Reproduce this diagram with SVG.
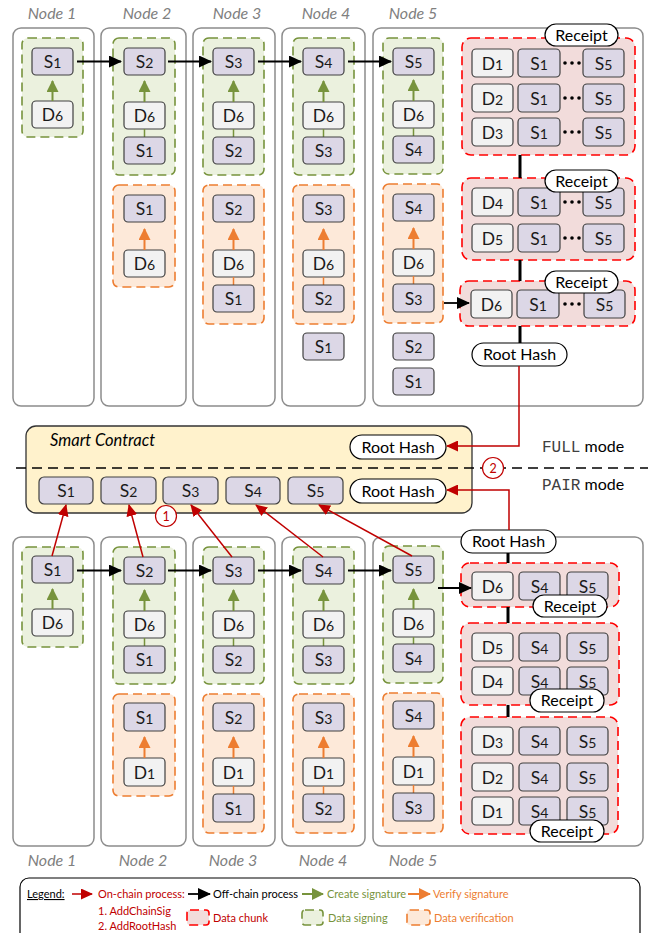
<svg xmlns="http://www.w3.org/2000/svg" width="648" height="933" viewBox="0 0 648 933">
<style>
.nb{fill:#fff;stroke:#8c8c8c;stroke-width:1.5}
.gg{fill:#EBF1DE;stroke:#77933C;stroke-width:1.6;stroke-dasharray:9 5}
.og{fill:#FDE9D9;stroke:#ED7D31;stroke-width:1.6;stroke-dasharray:9 5}
.rc{fill:#F2DCDB;stroke:#FF0000;stroke-width:1.6;stroke-dasharray:9 5}
.s{fill:#DCD7E6;stroke:#404040;stroke-width:1.2}
.d{fill:#F2F2F2;stroke:#404040;stroke-width:1.2}
.pill{fill:#fff;stroke:#000;stroke-width:1.2}
.t{font-family:Lato,"Open Sans",sans-serif;font-size:17.5px;text-anchor:middle;fill:#1a1a1a}
.sub{font-size:14px}
.pt{font-family:Lato,"Open Sans",sans-serif;font-size:16px;text-anchor:middle;fill:#000}
.nl{font-family:Lato,"Open Sans",sans-serif;font-style:italic;font-size:16px;text-anchor:middle;fill:#808080}
.ga{stroke:#77933C;stroke-width:2;fill:none}
.oa{stroke:#ED7D31;stroke-width:2;fill:none}
.ba{stroke:#000;stroke-width:1.8;fill:none}
.ra{stroke:#C00000;stroke-width:1.5;fill:none}
.gl{stroke:#77933C;stroke-width:1.5}
.ol{stroke:#ED7D31;stroke-width:1.5}
.kl{stroke:#000;stroke-width:3}
.lg{font-family:Lato,"Open Sans",sans-serif;font-size:11px}
</style>
<defs>
<marker id="mb" markerUnits="userSpaceOnUse" markerWidth="13" markerHeight="12" refX="12" refY="6" orient="auto"><path d="M0,0 L13,6 L0,12 z" fill="#000"/></marker>
<marker id="mg" markerUnits="userSpaceOnUse" markerWidth="12" markerHeight="12" refX="11" refY="6" orient="auto"><path d="M0,0 L12,6 L0,12 z" fill="#77933C"/></marker>
<marker id="mo" markerUnits="userSpaceOnUse" markerWidth="12" markerHeight="12" refX="11" refY="6" orient="auto"><path d="M0,0 L12,6 L0,12 z" fill="#ED7D31"/></marker>
<marker id="mr" markerUnits="userSpaceOnUse" markerWidth="12" markerHeight="11" refX="11" refY="5.5" orient="auto"><path d="M0,0 L12,5.5 L0,11 z" fill="#C00000"/></marker>
</defs>
<rect width="648" height="933" fill="#fff"/>

<!-- ================= TOP (FULL mode) ================= -->
<g id="labels-top">
<text class="nl" x="52" y="19">Node 1</text>
<text class="nl" x="147" y="19">Node 2</text>
<text class="nl" x="237" y="19">Node 3</text>
<text class="nl" x="326" y="19">Node 4</text>
<text class="nl" x="413" y="19">Node 5</text>
</g>

<g id="top-node1">
<rect class="nb" x="13" y="28" width="81" height="378" rx="8"/>
<rect class="gg" x="22" y="38" width="61" height="99" rx="6"/>
<rect class="s" x="32" y="48" width="41" height="27" rx="4"/><text class="t" x="52.5" y="68">S<tspan class="sub">1</tspan></text>
<rect class="d" x="32" y="101" width="41" height="27" rx="4"/><text class="t" x="52.5" y="121">D<tspan class="sub">6</tspan></text>
<line class="ga" x1="52.5" y1="101" x2="52.5" y2="81" marker-end="url(#mg)"/>
</g>

<g id="top-node2">
<rect class="nb" x="101" y="28" width="85" height="378" rx="8"/>
<rect class="gg" x="113" y="38" width="62" height="137" rx="6"/>
<rect class="s" x="124" y="48" width="41" height="27" rx="4"/><text class="t" x="144.5" y="68">S<tspan class="sub">2</tspan></text>
<rect class="d" x="124" y="102" width="41" height="27" rx="4"/><text class="t" x="144.5" y="122">D<tspan class="sub">6</tspan></text>
<line class="gl" x1="144.5" y1="129" x2="144.5" y2="137"/>
<rect class="s" x="124" y="137" width="41" height="27" rx="4"/><text class="t" x="144.5" y="157">S<tspan class="sub">1</tspan></text>
<line class="ga" x1="144.5" y1="102" x2="144.5" y2="81" marker-end="url(#mg)"/>
<rect class="og" x="113" y="185" width="62" height="102" rx="6"/>
<rect class="s" x="124" y="195" width="41" height="27" rx="4"/><text class="t" x="144.5" y="215">S<tspan class="sub">1</tspan></text>
<rect class="d" x="124" y="250" width="41" height="27" rx="4"/><text class="t" x="144.5" y="270">D<tspan class="sub">6</tspan></text>
<line class="oa" x1="144.5" y1="250" x2="144.5" y2="229" marker-end="url(#mo)"/>
</g>

<g id="top-node3">
<rect class="nb" x="193" y="28" width="82" height="378" rx="8"/>
<rect class="gg" x="203" y="38" width="61" height="137" rx="6"/>
<rect class="s" x="213" y="48" width="41" height="27" rx="4"/><text class="t" x="233.5" y="68">S<tspan class="sub">3</tspan></text>
<rect class="d" x="213" y="102" width="41" height="27" rx="4"/><text class="t" x="233.5" y="122">D<tspan class="sub">6</tspan></text>
<line class="gl" x1="233.5" y1="129" x2="233.5" y2="137"/>
<rect class="s" x="213" y="137" width="41" height="27" rx="4"/><text class="t" x="233.5" y="157">S<tspan class="sub">2</tspan></text>
<line class="ga" x1="233.5" y1="102" x2="233.5" y2="81" marker-end="url(#mg)"/>
<rect class="og" x="203" y="185" width="61" height="139" rx="6"/>
<rect class="s" x="213" y="195" width="41" height="27" rx="4"/><text class="t" x="233.5" y="215">S<tspan class="sub">2</tspan></text>
<rect class="d" x="213" y="250" width="41" height="27" rx="4"/><text class="t" x="233.5" y="270">D<tspan class="sub">6</tspan></text>
<line class="ol" x1="233.5" y1="277" x2="233.5" y2="285"/>
<rect class="s" x="213" y="285" width="41" height="27" rx="4"/><text class="t" x="233.5" y="305">S<tspan class="sub">1</tspan></text>
<line class="oa" x1="233.5" y1="250" x2="233.5" y2="229" marker-end="url(#mo)"/>
</g>

<g id="top-node4">
<rect class="nb" x="282" y="28" width="83" height="378" rx="8"/>
<rect class="gg" x="293" y="38" width="61" height="137" rx="6"/>
<rect class="s" x="303" y="48" width="41" height="27" rx="4"/><text class="t" x="323.5" y="68">S<tspan class="sub">4</tspan></text>
<rect class="d" x="303" y="102" width="41" height="27" rx="4"/><text class="t" x="323.5" y="122">D<tspan class="sub">6</tspan></text>
<line class="gl" x1="323.5" y1="129" x2="323.5" y2="137"/>
<rect class="s" x="303" y="137" width="41" height="27" rx="4"/><text class="t" x="323.5" y="157">S<tspan class="sub">3</tspan></text>
<line class="ga" x1="323.5" y1="102" x2="323.5" y2="81" marker-end="url(#mg)"/>
<rect class="og" x="293" y="185" width="61" height="139" rx="6"/>
<rect class="s" x="303" y="195" width="41" height="27" rx="4"/><text class="t" x="323.5" y="215">S<tspan class="sub">3</tspan></text>
<rect class="d" x="303" y="250" width="41" height="27" rx="4"/><text class="t" x="323.5" y="270">D<tspan class="sub">6</tspan></text>
<line class="ol" x1="323.5" y1="277" x2="323.5" y2="285"/>
<rect class="s" x="303" y="285" width="41" height="27" rx="4"/><text class="t" x="323.5" y="305">S<tspan class="sub">2</tspan></text>
<line class="oa" x1="323.5" y1="250" x2="323.5" y2="229" marker-end="url(#mo)"/>
<rect class="s" x="303" y="333" width="41" height="27" rx="4"/><text class="t" x="323.5" y="353">S<tspan class="sub">1</tspan></text>
</g>

<g id="top-node5">
<rect class="nb" x="373" y="28" width="270" height="378" rx="8"/>
<rect class="gg" x="383" y="38" width="60" height="136" rx="6"/>
<rect class="s" x="393" y="48" width="41" height="27" rx="4"/><text class="t" x="413.5" y="68">S<tspan class="sub">5</tspan></text>
<rect class="d" x="393" y="101" width="41" height="27" rx="4"/><text class="t" x="413.5" y="121">D<tspan class="sub">6</tspan></text>
<line class="gl" x1="413.5" y1="128" x2="413.5" y2="136"/>
<rect class="s" x="393" y="136" width="41" height="27" rx="4"/><text class="t" x="413.5" y="156">S<tspan class="sub">4</tspan></text>
<line class="ga" x1="413.5" y1="101" x2="413.5" y2="80" marker-end="url(#mg)"/>
<rect class="og" x="383" y="184" width="60" height="139" rx="6"/>
<rect class="s" x="393" y="194" width="41" height="27" rx="4"/><text class="t" x="413.5" y="214">S<tspan class="sub">4</tspan></text>
<rect class="d" x="393" y="249" width="41" height="27" rx="4"/><text class="t" x="413.5" y="269">D<tspan class="sub">6</tspan></text>
<line class="ol" x1="413.5" y1="276" x2="413.5" y2="284"/>
<rect class="s" x="393" y="284" width="41" height="28" rx="4"/><text class="t" x="413.5" y="304.5">S<tspan class="sub">3</tspan></text>
<line class="oa" x1="413.5" y1="249" x2="413.5" y2="228" marker-end="url(#mo)"/>
<rect class="s" x="393" y="333" width="41" height="27" rx="4"/><text class="t" x="413.5" y="353">S<tspan class="sub">2</tspan></text>
<rect class="s" x="393" y="368" width="41" height="27" rx="4"/><text class="t" x="413.5" y="388">S<tspan class="sub">1</tspan></text>
</g>

<g id="top-chunk1">
<rect class="rc" x="462" y="38" width="173" height="117" rx="9"/>
<rect class="d" x="472" y="49" width="41" height="28" rx="4"/><text class="t" x="492.5" y="69.5">D<tspan class="sub">1</tspan></text>
<rect class="s" x="518" y="49" width="42" height="28" rx="4"/><text class="t" x="539" y="69.5">S<tspan class="sub">1</tspan></text>
<circle cx="565" cy="63" r="1.8"/><circle cx="572" cy="63" r="1.8"/><circle cx="579" cy="63" r="1.8"/>
<rect class="s" x="583" y="49" width="41" height="28" rx="4"/><text class="t" x="603.5" y="69.5">S<tspan class="sub">5</tspan></text>
<rect class="d" x="472" y="84" width="41" height="28" rx="4"/><text class="t" x="492.5" y="104.5">D<tspan class="sub">2</tspan></text>
<rect class="s" x="518" y="84" width="42" height="28" rx="4"/><text class="t" x="539" y="104.5">S<tspan class="sub">1</tspan></text>
<circle cx="565" cy="98" r="1.8"/><circle cx="572" cy="98" r="1.8"/><circle cx="579" cy="98" r="1.8"/>
<rect class="s" x="583" y="84" width="41" height="28" rx="4"/><text class="t" x="603.5" y="104.5">S<tspan class="sub">5</tspan></text>
<rect class="d" x="472" y="118" width="41" height="28" rx="4"/><text class="t" x="492.5" y="138.5">D<tspan class="sub">3</tspan></text>
<rect class="s" x="518" y="118" width="42" height="28" rx="4"/><text class="t" x="539" y="138.5">S<tspan class="sub">1</tspan></text>
<circle cx="565" cy="132" r="1.8"/><circle cx="572" cy="132" r="1.8"/><circle cx="579" cy="132" r="1.8"/>
<rect class="s" x="583" y="118" width="41" height="28" rx="4"/><text class="t" x="603.5" y="138.5">S<tspan class="sub">5</tspan></text>
<rect class="pill" x="545" y="24" width="73" height="22" rx="11"/><text class="pt" x="581.5" y="40.5">Receipt</text>
</g>

<g id="top-chunk2">
<rect class="rc" x="462" y="178" width="173" height="82" rx="9"/>
<rect class="d" x="472" y="188" width="41" height="28" rx="4"/><text class="t" x="492.5" y="208.5">D<tspan class="sub">4</tspan></text>
<rect class="s" x="518" y="188" width="42" height="28" rx="4"/><text class="t" x="539" y="208.5">S<tspan class="sub">1</tspan></text>
<circle cx="565" cy="202" r="1.8"/><circle cx="572" cy="202" r="1.8"/><circle cx="579" cy="202" r="1.8"/>
<rect class="s" x="583" y="188" width="41" height="28" rx="4"/><text class="t" x="603.5" y="208.5">S<tspan class="sub">5</tspan></text>
<rect class="d" x="472" y="224" width="41" height="28" rx="4"/><text class="t" x="492.5" y="244.5">D<tspan class="sub">5</tspan></text>
<rect class="s" x="518" y="224" width="42" height="28" rx="4"/><text class="t" x="539" y="244.5">S<tspan class="sub">1</tspan></text>
<circle cx="565" cy="238" r="1.8"/><circle cx="572" cy="238" r="1.8"/><circle cx="579" cy="238" r="1.8"/>
<rect class="s" x="583" y="224" width="41" height="28" rx="4"/><text class="t" x="603.5" y="244.5">S<tspan class="sub">5</tspan></text>
<rect class="pill" x="545" y="170" width="73" height="22" rx="11"/><text class="pt" x="581.5" y="186.5">Receipt</text>
</g>

<g id="top-chunk3">
<rect class="rc" x="460" y="281" width="175" height="45" rx="9"/>
<rect class="d" x="471" y="290" width="41" height="28" rx="4"/><text class="t" x="491.5" y="310.5">D<tspan class="sub">6</tspan></text>
<rect class="s" x="517" y="290" width="42" height="28" rx="4"/><text class="t" x="538" y="310.5">S<tspan class="sub">1</tspan></text>
<circle cx="565" cy="304" r="1.8"/><circle cx="572" cy="304" r="1.8"/><circle cx="579" cy="304" r="1.8"/>
<rect class="s" x="584" y="290" width="41" height="28" rx="4"/><text class="t" x="604.5" y="310.5">S<tspan class="sub">5</tspan></text>
<rect class="pill" x="545" y="271" width="73" height="22" rx="11"/><text class="pt" x="581.5" y="287.5">Receipt</text>
</g>

<g id="top-roothash">
<rect class="pill" x="472" y="343" width="95" height="23" rx="11.5"/><text class="pt" x="519.5" y="360">Root Hash</text>
</g>

<!-- ================= SMART CONTRACT ================= -->
<g id="contract">
<rect x="26" y="426" width="446" height="87" rx="10" fill="#FFF2CC" stroke="#333" stroke-width="1.3"/>
<text x="50" y="446" font-family="Lato,'Open Sans',sans-serif" font-style="italic" font-size="16.5" fill="#000">Smart Contract</text>
<rect class="pill" x="350" y="435" width="96" height="24" rx="12"/><text class="pt" x="398" y="452.5">Root Hash</text>
<rect class="pill" x="350" y="479" width="96" height="24" rx="12"/><text class="pt" x="398" y="496.5">Root Hash</text>
<rect class="s" x="39" y="477" width="54" height="27" rx="5"/><text class="t" x="66" y="497">S<tspan class="sub">1</tspan></text>
<rect class="s" x="101" y="477" width="55" height="27" rx="5"/><text class="t" x="128.5" y="497">S<tspan class="sub">2</tspan></text>
<rect class="s" x="163" y="477" width="55" height="27" rx="5"/><text class="t" x="190.5" y="497">S<tspan class="sub">3</tspan></text>
<rect class="s" x="226" y="477" width="54" height="27" rx="5"/><text class="t" x="253" y="497">S<tspan class="sub">4</tspan></text>
<rect class="s" x="288" y="477" width="55" height="27" rx="5"/><text class="t" x="315.5" y="497">S<tspan class="sub">5</tspan></text>
</g>

<g id="modes">
<line x1="16" y1="468" x2="648" y2="468" stroke="#000" stroke-width="1.5" stroke-dasharray="10 6"/>
<text x="542" y="452" font-family="Lato,'Open Sans',sans-serif" font-size="16" fill="#000"><tspan font-family="'Liberation Mono',monospace" fill="#404040">FULL</tspan> mode</text>
<text x="542" y="490" font-family="Lato,'Open Sans',sans-serif" font-size="16" fill="#000"><tspan font-family="'Liberation Mono',monospace" fill="#404040">PAIR</tspan> mode</text>
</g>

<!-- ================= BOTTOM (PAIR mode) ================= -->
<g id="bot-node1">
<rect class="nb" x="13" y="537" width="81" height="309" rx="8"/>
<rect class="gg" x="22" y="547" width="61" height="100" rx="6"/>
<rect class="s" x="32" y="556" width="41" height="27" rx="4"/><text class="t" x="52.5" y="576">S<tspan class="sub">1</tspan></text>
<rect class="d" x="32" y="609" width="41" height="27" rx="4"/><text class="t" x="52.5" y="629">D<tspan class="sub">6</tspan></text>
<line class="ga" x1="52.5" y1="609" x2="52.5" y2="589" marker-end="url(#mg)"/>
</g>

<g id="bot-node2">
<rect class="nb" x="101" y="537" width="85" height="309" rx="8"/>
<rect class="gg" x="113" y="547" width="62" height="137" rx="6"/>
<rect class="s" x="124" y="557" width="41" height="27" rx="4"/><text class="t" x="144.5" y="577">S<tspan class="sub">2</tspan></text>
<rect class="d" x="124" y="611" width="41" height="27" rx="4"/><text class="t" x="144.5" y="631">D<tspan class="sub">6</tspan></text>
<line class="gl" x1="144.5" y1="638" x2="144.5" y2="646"/>
<rect class="s" x="124" y="646" width="41" height="27" rx="4"/><text class="t" x="144.5" y="666">S<tspan class="sub">1</tspan></text>
<line class="ga" x1="144.5" y1="611" x2="144.5" y2="590" marker-end="url(#mg)"/>
<rect class="og" x="113" y="694" width="62" height="102" rx="6"/>
<rect class="s" x="124" y="703" width="41" height="28" rx="4"/><text class="t" x="144.5" y="723.5">S<tspan class="sub">1</tspan></text>
<rect class="d" x="124" y="758" width="41" height="28" rx="4"/><text class="t" x="144.5" y="778.5">D<tspan class="sub">1</tspan></text>
<line class="oa" x1="144.5" y1="758" x2="144.5" y2="737" marker-end="url(#mo)"/>
</g>

<g id="bot-node3">
<rect class="nb" x="193" y="537" width="82" height="309" rx="8"/>
<rect class="gg" x="203" y="547" width="61" height="137" rx="6"/>
<rect class="s" x="213" y="557" width="41" height="27" rx="4"/><text class="t" x="233.5" y="577">S<tspan class="sub">3</tspan></text>
<rect class="d" x="213" y="611" width="41" height="27" rx="4"/><text class="t" x="233.5" y="631">D<tspan class="sub">6</tspan></text>
<line class="gl" x1="233.5" y1="638" x2="233.5" y2="646"/>
<rect class="s" x="213" y="646" width="41" height="27" rx="4"/><text class="t" x="233.5" y="666">S<tspan class="sub">2</tspan></text>
<line class="ga" x1="233.5" y1="611" x2="233.5" y2="590" marker-end="url(#mg)"/>
<rect class="og" x="203" y="694" width="61" height="139" rx="6"/>
<rect class="s" x="213" y="703" width="41" height="28" rx="4"/><text class="t" x="233.5" y="723.5">S<tspan class="sub">2</tspan></text>
<rect class="d" x="213" y="758" width="41" height="28" rx="4"/><text class="t" x="233.5" y="778.5">D<tspan class="sub">1</tspan></text>
<line class="ol" x1="233.5" y1="786" x2="233.5" y2="794"/>
<rect class="s" x="213" y="794" width="41" height="28" rx="4"/><text class="t" x="233.5" y="814.5">S<tspan class="sub">1</tspan></text>
<line class="oa" x1="233.5" y1="758" x2="233.5" y2="737" marker-end="url(#mo)"/>
</g>

<g id="bot-node4">
<rect class="nb" x="282" y="537" width="83" height="309" rx="8"/>
<rect class="gg" x="293" y="547" width="61" height="137" rx="6"/>
<rect class="s" x="303" y="557" width="41" height="27" rx="4"/><text class="t" x="323.5" y="577">S<tspan class="sub">4</tspan></text>
<rect class="d" x="303" y="611" width="41" height="27" rx="4"/><text class="t" x="323.5" y="631">D<tspan class="sub">6</tspan></text>
<line class="gl" x1="323.5" y1="638" x2="323.5" y2="646"/>
<rect class="s" x="303" y="646" width="41" height="27" rx="4"/><text class="t" x="323.5" y="666">S<tspan class="sub">3</tspan></text>
<line class="ga" x1="323.5" y1="611" x2="323.5" y2="590" marker-end="url(#mg)"/>
<rect class="og" x="293" y="694" width="61" height="139" rx="6"/>
<rect class="s" x="303" y="703" width="41" height="28" rx="4"/><text class="t" x="323.5" y="723.5">S<tspan class="sub">3</tspan></text>
<rect class="d" x="303" y="758" width="41" height="28" rx="4"/><text class="t" x="323.5" y="778.5">D<tspan class="sub">1</tspan></text>
<line class="ol" x1="323.5" y1="786" x2="323.5" y2="794"/>
<rect class="s" x="303" y="794" width="41" height="28" rx="4"/><text class="t" x="323.5" y="814.5">S<tspan class="sub">2</tspan></text>
<line class="oa" x1="323.5" y1="758" x2="323.5" y2="737" marker-end="url(#mo)"/>
</g>

<g id="bot-node5">
<rect class="nb" x="373" y="537" width="270" height="309" rx="8"/>
<rect class="gg" x="383" y="546" width="60" height="137" rx="6"/>
<rect class="s" x="393" y="556" width="41" height="27" rx="4"/><text class="t" x="413.5" y="576">S<tspan class="sub">5</tspan></text>
<rect class="d" x="393" y="609" width="41" height="28" rx="4"/><text class="t" x="413.5" y="629.5">D<tspan class="sub">6</tspan></text>
<line class="gl" x1="413.5" y1="637" x2="413.5" y2="644"/>
<rect class="s" x="393" y="644" width="41" height="28" rx="4"/><text class="t" x="413.5" y="664.5">S<tspan class="sub">4</tspan></text>
<line class="ga" x1="413.5" y1="609" x2="413.5" y2="589" marker-end="url(#mg)"/>
<rect class="og" x="383" y="693" width="60" height="140" rx="6"/>
<rect class="s" x="393" y="701" width="41" height="28" rx="4"/><text class="t" x="413.5" y="721.5">S<tspan class="sub">4</tspan></text>
<rect class="d" x="393" y="757" width="41" height="28" rx="4"/><text class="t" x="413.5" y="777.5">D<tspan class="sub">1</tspan></text>
<line class="ol" x1="413.5" y1="785" x2="413.5" y2="793"/>
<rect class="s" x="393" y="793" width="41" height="28" rx="4"/><text class="t" x="413.5" y="813.5">S<tspan class="sub">3</tspan></text>
<line class="oa" x1="413.5" y1="757" x2="413.5" y2="736" marker-end="url(#mo)"/>
</g>

<g id="bot-chunkA">
<rect class="rc" x="461" y="563" width="158" height="44" rx="9"/>
<rect class="d" x="472" y="572" width="41" height="28" rx="4"/><text class="t" x="492.5" y="592.5">D<tspan class="sub">6</tspan></text>
<rect class="s" x="519" y="572" width="41" height="28" rx="4"/><text class="t" x="539.5" y="592.5">S<tspan class="sub">4</tspan></text>
<rect class="s" x="567" y="572" width="41" height="28" rx="4"/><text class="t" x="587.5" y="592.5">S<tspan class="sub">5</tspan></text>
<rect class="pill" x="533" y="595" width="74" height="22" rx="11"/><text class="pt" x="570" y="611.5">Receipt</text>
</g>

<g id="bot-chunkB">
<rect class="rc" x="461" y="623" width="158" height="82" rx="9"/>
<rect class="d" x="472" y="633" width="41" height="28" rx="4"/><text class="t" x="492.5" y="653.5">D<tspan class="sub">5</tspan></text>
<rect class="s" x="519" y="633" width="41" height="28" rx="4"/><text class="t" x="539.5" y="653.5">S<tspan class="sub">4</tspan></text>
<rect class="s" x="567" y="633" width="41" height="28" rx="4"/><text class="t" x="587.5" y="653.5">S<tspan class="sub">5</tspan></text>
<rect class="d" x="472" y="667" width="41" height="28" rx="4"/><text class="t" x="492.5" y="687.5">D<tspan class="sub">4</tspan></text>
<rect class="s" x="519" y="667" width="41" height="28" rx="4"/><text class="t" x="539.5" y="687.5">S<tspan class="sub">4</tspan></text>
<rect class="s" x="567" y="667" width="41" height="28" rx="4"/><text class="t" x="587.5" y="687.5">S<tspan class="sub">5</tspan></text>
<rect class="pill" x="530" y="689" width="74" height="23" rx="11"/><text class="pt" x="567" y="706">Receipt</text>
</g>

<g id="bot-chunkC">
<rect class="rc" x="461" y="717" width="157" height="117" rx="9"/>
<rect class="d" x="472" y="727" width="41" height="28" rx="4"/><text class="t" x="492.5" y="747.5">D<tspan class="sub">3</tspan></text>
<rect class="s" x="519" y="727" width="41" height="28" rx="4"/><text class="t" x="539.5" y="747.5">S<tspan class="sub">4</tspan></text>
<rect class="s" x="567" y="727" width="41" height="28" rx="4"/><text class="t" x="587.5" y="747.5">S<tspan class="sub">5</tspan></text>
<rect class="d" x="472" y="763" width="41" height="28" rx="4"/><text class="t" x="492.5" y="783.5">D<tspan class="sub">2</tspan></text>
<rect class="s" x="519" y="763" width="41" height="28" rx="4"/><text class="t" x="539.5" y="783.5">S<tspan class="sub">4</tspan></text>
<rect class="s" x="567" y="763" width="41" height="28" rx="4"/><text class="t" x="587.5" y="783.5">S<tspan class="sub">5</tspan></text>
<rect class="d" x="472" y="797" width="41" height="28" rx="4"/><text class="t" x="492.5" y="817.5">D<tspan class="sub">1</tspan></text>
<rect class="s" x="519" y="797" width="41" height="28" rx="4"/><text class="t" x="539.5" y="817.5">S<tspan class="sub">4</tspan></text>
<rect class="s" x="567" y="797" width="41" height="28" rx="4"/><text class="t" x="587.5" y="817.5">S<tspan class="sub">5</tspan></text>
<rect class="pill" x="530" y="820" width="74" height="22" rx="11"/><text class="pt" x="567" y="836.5">Receipt</text>
</g>

<g id="bot-roothash">
<rect class="pill" x="461" y="530" width="95" height="23" rx="11.5"/><text class="pt" x="508.5" y="547">Root Hash</text>
</g>

<g id="labels-bottom">
<text class="nl" x="52" y="866">Node 1</text>
<text class="nl" x="143" y="866">Node 2</text>
<text class="nl" x="233" y="866">Node 3</text>
<text class="nl" x="323" y="866">Node 4</text>
<text class="nl" x="413" y="866">Node 5</text>
</g>

<!-- ================= CONNECTORS ================= -->
<g id="connectors">
<line class="ba" x1="77" y1="61.5" x2="121" y2="61.5" marker-end="url(#mb)"/>
<line class="ba" x1="168" y1="61.5" x2="211" y2="61.5" marker-end="url(#mb)"/>
<line class="ba" x1="258" y1="61.5" x2="301" y2="61.5" marker-end="url(#mb)"/>
<line class="ba" x1="348" y1="61.5" x2="391" y2="61.5" marker-end="url(#mb)"/>
<line class="ba" x1="444" y1="303" x2="469" y2="303" marker-end="url(#mb)"/>
<line class="kl" x1="520" y1="155" x2="520" y2="178"/>
<line class="kl" x1="520" y1="260" x2="520" y2="281"/>
<line class="kl" x1="520" y1="326" x2="520" y2="343"/>
<polyline class="ra" points="519,366 519,446 447,446" marker-end="url(#mr)"/>
<polyline class="ra" points="509,530 509,490 447,490" marker-end="url(#mr)"/>
<line class="ba" x1="77" y1="570.5" x2="121" y2="570.5" marker-end="url(#mb)"/>
<line class="ba" x1="168" y1="570.5" x2="211" y2="570.5" marker-end="url(#mb)"/>
<line class="ba" x1="258" y1="570.5" x2="301" y2="570.5" marker-end="url(#mb)"/>
<line class="ba" x1="348" y1="570.5" x2="391" y2="570.5" marker-end="url(#mb)"/>
<line class="ba" x1="438" y1="588" x2="471" y2="588" marker-end="url(#mb)"/>
<line class="kl" x1="508" y1="553" x2="508" y2="563"/>
<line class="kl" x1="508" y1="607" x2="508" y2="623"/>
<line class="kl" x1="508" y1="705" x2="508" y2="717"/>
<line class="ra" x1="52" y1="556" x2="66" y2="505" marker-end="url(#mr)"/>
<line class="ra" x1="143" y1="557" x2="129" y2="505" marker-end="url(#mr)"/>
<line class="ra" x1="232" y1="557" x2="191" y2="505" marker-end="url(#mr)"/>
<line class="ra" x1="323" y1="557" x2="256" y2="505" marker-end="url(#mr)"/>
<line class="ra" x1="412" y1="556" x2="319" y2="505" marker-end="url(#mr)"/>
<circle cx="166" cy="516" r="10.5" fill="#fff" stroke="#C00000" stroke-width="1.2"/>
<text x="166" y="520.5" font-family="Lato,'Open Sans',sans-serif" font-size="12.5" text-anchor="middle" fill="#C00000">1</text>
<circle cx="493" cy="468" r="10.5" fill="#fff" stroke="#C00000" stroke-width="1.2"/>
<text x="493" y="472.5" font-family="Lato,'Open Sans',sans-serif" font-size="12.5" text-anchor="middle" fill="#C00000">2</text>
</g>

<!-- ================= LEGEND ================= -->
<g id="legend">
<rect x="20" y="878" width="620" height="64" rx="9" fill="#fff" stroke="#000" stroke-width="1.2"/>
<text class="lg" x="27" y="898" fill="#000" text-decoration="underline">Legend:</text>
<line class="ra" x1="72" y1="894" x2="92" y2="894" stroke-width="2" marker-end="url(#mr)"/>
<text class="lg" x="98" y="898" fill="#C00000">On-chain process:</text>
<text class="lg" x="98" y="915" fill="#C00000">1. AddChainSig</text>
<text class="lg" x="98" y="930" fill="#C00000">2. AddRootHash</text>
<line class="ba" x1="188" y1="894" x2="210" y2="894" marker-end="url(#mb)"/>
<text class="lg" x="213" y="898" fill="#000">Off-chain process</text>
<line class="ga" x1="302" y1="894" x2="323" y2="894" marker-end="url(#mg)"/>
<text class="lg" x="327" y="898" fill="#77933C">Create signature</text>
<line class="oa" x1="408" y1="894" x2="430" y2="894" marker-end="url(#mo)"/>
<text class="lg" x="433" y="898" fill="#ED7D31">Verify signature</text>
<rect class="rc" x="187" y="910" width="22" height="15" rx="3" stroke-dasharray="6 4"/>
<text class="lg" x="213" y="922" fill="#C00000">Data chunk</text>
<rect class="gg" x="302" y="910" width="21" height="15" rx="3" stroke-dasharray="6 4"/>
<text class="lg" x="328" y="922" fill="#77933C">Data signing</text>
<rect class="og" x="407" y="910" width="23" height="15" rx="3" stroke-dasharray="6 4"/>
<text class="lg" x="434" y="922" fill="#ED7D31">Data verification</text>
</g>
</svg>
